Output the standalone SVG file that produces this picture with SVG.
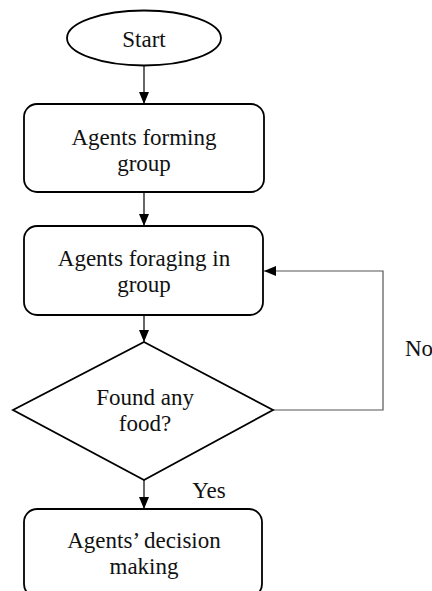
<svg xmlns="http://www.w3.org/2000/svg" width="432" height="591" viewBox="0 0 432 591">
<defs>
<marker id="ah" viewBox="0 0 12 10" refX="12" refY="5" markerWidth="12" markerHeight="10" markerUnits="userSpaceOnUse" orient="auto">
<path d="M0,0 L12,5 L0,10 Z" fill="#000"/>
</marker>
</defs>
<style>
.shape{fill:#fff;stroke:#000;stroke-width:1.8}
.t{font-family:"Liberation Serif","Times New Roman","DejaVu Serif",serif;font-size:23px;fill:#111;text-anchor:middle}
.c{fill:none;stroke:#000;stroke-width:1.2}
.loop{fill:none;stroke:#555;stroke-width:1.2}
</style>
<rect width="432" height="591" fill="#fff"/>
<g id="connectors">
<line class="c" x1="144" y1="66" x2="144" y2="104" marker-end="url(#ah)"/>
<line class="c" x1="144" y1="192" x2="144" y2="226" marker-end="url(#ah)"/>
<line class="c" x1="144" y1="315" x2="144" y2="342" marker-end="url(#ah)"/>
<line class="c" x1="144" y1="480" x2="144" y2="509" marker-end="url(#ah)"/>
<polyline class="loop" points="273,410 383,410 383,271 264,271" marker-end="url(#ah)"/>
<text class="t" x="209" y="498">Yes</text>
<text class="t" x="405" y="356" style="text-anchor:start">No</text>
</g>
<g id="start">
<ellipse class="shape" cx="144" cy="38" rx="77" ry="27.5"/>
<text class="t" x="144" y="47">Start</text>
</g>
<g id="forming">
<rect class="shape" x="24" y="104" width="240" height="88" rx="13"/>
<text class="t" x="144" y="145">Agents forming</text>
<text class="t" x="144" y="171">group</text>
</g>
<g id="foraging">
<rect class="shape" x="24" y="226" width="239" height="89" rx="13"/>
<text class="t" x="144" y="266">Agents foraging in</text>
<text class="t" x="144" y="292">group</text>
</g>
<g id="found">
<polygon class="shape" points="144,342 273,410 144,480 13,410"/>
<text class="t" x="145" y="405">Found any</text>
<text class="t" x="145" y="431">food?</text>
</g>
<g id="decision">
<rect class="shape" x="24" y="509" width="238" height="88" rx="13"/>
<text class="t" x="144" y="548">Agents’ decision</text>
<text class="t" x="144" y="574">making</text>
</g>
</svg>
